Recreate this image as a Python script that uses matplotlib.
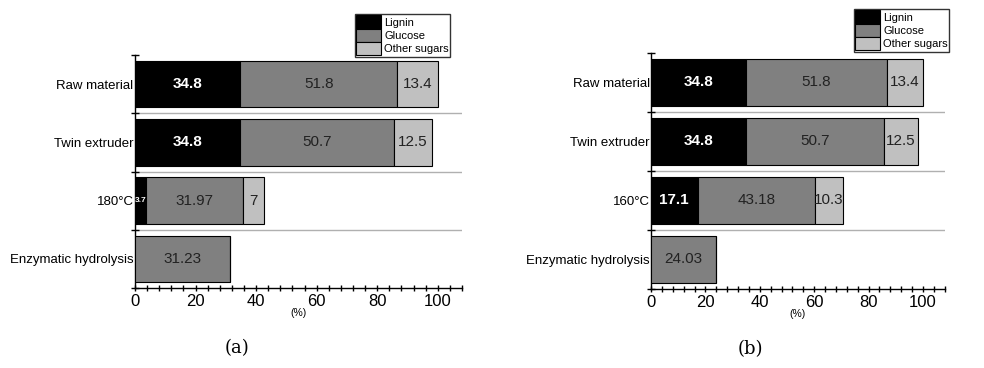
import matplotlib
matplotlib.use("Agg")
import matplotlib.pyplot as plt
from matplotlib.patches import Patch
from matplotlib.ticker import MultipleLocator

plt.rcParams["font.family"] = ["Liberation Sans", "DejaVu Sans"]

# data
kategorie_a = ["Raw material", "Twin extruder", "180°C", "Enzymatic hydrolysis"]
kategorie_b = ["Raw material", "Twin extruder", "160°C", "Enzymatic hydrolysis"]

lignin_a = [34.8, 34.8, 3.7, 0]
glucose_a = [51.8, 50.7, 31.97, 31.23]
sugars_a = [13.4, 12.5, 7, 0]

lignin_b = [34.8, 34.8, 17.1, 0]
glucose_b = [51.8, 50.7, 43.18, 24.03]
sugars_b = [13.4, 12.5, 10.3, 0]

serie = ["Lignin", "Glucose", "Other sugars"]
KOLORY = ["#000000", "#808080", "#c0c0c0"]


def rysuj_panel(ax, kategorie, lignin, glucose, sugars, litera, legenda_bbox, litera_xy):
    y = list(range(len(kategorie)))
    left = [0] * len(kategorie)
    for idx, wartosci in enumerate([lignin, glucose, sugars]):
        ax.barh(y, wartosci, left=left, height=0.8, color=KOLORY[idx],
                edgecolor="black", linewidth=0.8, zorder=3)
        for yi, l, v in zip(y, left, wartosci):
            if v <= 0:
                continue
            xc = l + v / 2
            if idx == 0:
                if v < 5:
                    ax.text(l + 0.1, yi, f"{v:g}", color="white", fontsize=6,
                            fontweight="bold", ha="left", va="center", zorder=4)
                else:
                    ax.text(xc, yi, f"{v:g}", color="white", fontsize=11,
                            fontweight="bold", ha="center", va="center", zorder=4)
            else:
                ax.text(xc, yi, f"{v:g}", color="#222222", fontsize=11,
                        ha="center", va="center", zorder=4)
        left = [a + b for a, b in zip(left, wartosci)]

    ax.set_ylim(len(kategorie) - 0.5, -0.5)
    ax.set_xlim(0, 108)
    ax.set_yticks(y)
    ax.set_yticklabels(kategorie, fontsize=9.5)
    ax.tick_params(axis="y", which="major", length=0, pad=1)
    ax.set_yticks([i - 0.5 for i in range(len(kategorie) + 1)], minor=True)
    ax.tick_params(axis="y", which="minor", length=6, direction="inout", width=1)
    for b in range(1, len(kategorie)):
        ax.axhline(b - 0.5, color="#b0b0b0", linewidth=1, zorder=1)

    ax.set_xticks([0, 20, 40, 60, 80, 100])
    ax.xaxis.set_minor_locator(MultipleLocator(4))
    ax.tick_params(axis="x", which="both", direction="inout", length=5, width=1,
                   labelsize=12, pad=2)
    ax.set_xlabel("(%)", fontsize=7.5, labelpad=-1)

    for s in ["top", "right"]:
        ax.spines[s].set_visible(False)
    for s in ["left", "bottom"]:
        ax.spines[s].set_linewidth(1)

    uchwyty = [Patch(facecolor=k, edgecolor="black", linewidth=0.8) for k in KOLORY]
    ax.legend(uchwyty, serie, loc="upper right", bbox_to_anchor=legenda_bbox,
              bbox_transform=ax.figure.transFigure, fontsize=8, frameon=True,
              fancybox=False, edgecolor="black", handlelength=2.2, handleheight=1.45,
              labelspacing=0.02, borderpad=0.12, handletextpad=0.3, borderaxespad=0)

    ax.figure.text(litera_xy[0], litera_xy[1], litera, ha="center", va="center",
                   fontsize=13, family="DejaVu Serif")


def main():
    fig = plt.figure(figsize=(9.84, 3.68), dpi=100)
    ax_a = fig.add_axes([0.1372, 0.2174, 0.3323, 0.6331])
    ax_b = fig.add_axes([0.6616, 0.2147, 0.2985, 0.6413])

    rysuj_panel(ax_a, kategorie_a, lignin_a, glucose_a, sugars_a, "(a)",
                (450 / 984, 1 - 14 / 368), (237 / 984, 1 - 348 / 368))
    rysuj_panel(ax_b, kategorie_b, lignin_b, glucose_b, sugars_b, "(b)",
                (949 / 984, 1 - 9 / 368), (750 / 984, 1 - 349 / 368))

    fig.savefig("out.png", dpi=100)
    plt.close(fig)


if __name__ == "__main__":
    main()
